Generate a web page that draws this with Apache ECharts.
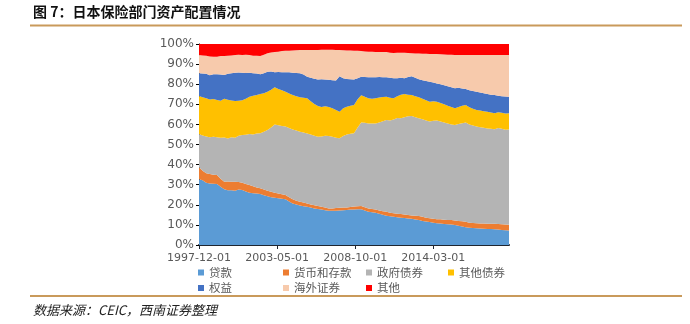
<!DOCTYPE html>
<html>
<head>
<meta charset="utf-8">
<script src="https://cdn.jsdelivr.net/npm/echarts@6/dist/echarts.min.js"></script>
<style>
html,body{margin:0;padding:0;background:#fff;}
#chart{width:690px;height:324px;}
</style>
</head>
<body>
<div id="chart"></div>
<script>
// Quarterly observation dates 1997-12-01 .. 2019-06-01 (87 points)
const quarters = [];
for (let i = 0; i < 87; i++) {
  const t = 1997 * 12 + 11 + 3 * i;
  const y = Math.floor(t / 12), m = t % 12 + 1;
  quarters.push(y + '-' + (m < 10 ? '0' + m : m) + '-01');
}
// Monthly label axis over the same span (259 months)
const months = [];
for (let i = 0; i < 259; i++) {
  const t = 1997 * 12 + 11 + i;
  const y = Math.floor(t / 12), m = t % 12 + 1;
  months.push(y + '-' + (m < 10 ? '0' + m : m) + '-01');
}
const labelStep = 65; // tick labels: 1997-12-01, 2003-05-01, 2008-10-01, 2014-03-01
const seriesNames = ['贷款', '货币和存款', '政府债券', '其他债券', '权益', '海外证券', '其他'];

const loans = [32.7,32.2,31.0,30.6,30.5,30.3,29.0,27.7,27.2,27.3,
  27.0,27.6,27.4,26.6,26.0,25.8,25.6,25.4,24.8,24.2,
  23.8,23.5,23.3,23.0,22.7,21.6,20.7,20.1,19.6,19.3,
  19.0,18.6,18.2,17.9,17.6,17.3,17.0,17.0,17.1,17.2,
  17.3,17.4,17.6,17.7,17.8,17.8,17.2,16.6,16.3,16.0,
  15.5,15.0,14.6,14.3,14.0,13.8,13.6,13.4,13.2,13.0,
  12.7,12.4,12.0,11.7,11.4,11.1,10.8,10.7,10.5,10.3,
  10.2,10.0,9.6,9.2,8.8,8.6,8.5,8.3,8.2,8.1,
  8.0,7.9,7.8,7.7,7.5,7.4,7.2];
const deposits = [6.0,4.8,4.7,4.7,4.5,4.5,4.0,3.8,4.4,4.2,
  4.5,3.7,3.6,3.8,3.9,3.4,3.0,2.8,2.8,2.8,
  2.7,2.5,2.3,2.2,2.2,2.2,2.0,1.9,1.9,1.8,
  1.7,1.6,1.6,1.5,1.4,1.3,1.2,1.2,1.3,1.3,
  1.3,1.3,1.3,1.4,1.5,1.6,1.6,1.6,1.6,1.6,
  1.7,1.8,1.9,1.8,1.8,1.8,1.8,1.8,1.7,1.7,
  1.9,2.0,2.0,1.9,1.9,1.9,2.0,2.1,2.1,2.2,
  2.2,2.2,2.4,2.6,2.8,2.5,2.5,2.5,2.5,2.6,
  2.6,2.7,2.8,2.7,2.8,2.8,2.9];
const govBonds = [16.5,17.5,18.3,18.3,18.8,18.8,20.3,22.0,21.4,22.1,
  21.9,23.0,23.7,24.5,25.3,25.8,26.9,27.4,28.7,30.2,
  32.0,34.0,34.0,34.0,34.0,34.4,34.8,35.0,34.9,34.9,
  34.8,34.8,34.6,34.5,35.0,35.7,36.0,35.6,35.0,34.6,
  35.6,36.3,36.4,36.5,39.2,41.6,42.0,42.3,42.5,42.9,
  43.8,44.8,45.7,45.9,46.7,47.6,47.6,48.3,49.1,49.5,
  48.9,48.6,48.6,48.4,48.2,48.8,49.2,48.7,48.4,48.0,
  47.6,47.5,48.2,48.8,49.4,48.9,48.4,48.1,47.9,47.6,
  47.4,47.2,47.0,47.8,47.5,47.2,47.4];
const otherBonds = [18.9,19.0,19.0,18.8,18.8,18.5,18.5,19.2,19.3,18.3,
  18.2,17.5,17.3,17.9,18.6,19.2,19.1,19.5,19.2,19.1,
  18.7,18.5,18.0,17.8,17.4,17.2,17.1,17.0,17.1,17.3,
  17.5,16.5,15.8,15.3,14.7,14.7,14.4,14.2,13.8,13.2,
  13.8,13.8,14.0,14.1,14.0,13.5,13.0,12.5,12.4,12.5,
  12.4,12.0,11.6,11.3,10.5,10.8,11.8,11.6,10.8,10.4,
  10.5,10.5,10.2,10.0,9.8,9.7,9.3,9.1,9.0,8.8,
  8.6,8.3,8.4,8.7,8.7,8.5,8.4,8.3,8.3,8.3,
  8.3,8.1,7.9,7.8,8.0,8.0,8.1];
const equity = [11.3,11.8,12.2,12.1,12.4,12.9,13.0,11.9,12.9,13.5,
  14.1,14.0,13.7,12.8,11.9,11.3,10.7,9.9,9.9,9.9,
  9.1,7.5,8.5,9.0,9.7,10.5,11.1,11.6,11.9,11.5,
  10.7,11.7,12.5,13.2,13.8,13.3,13.6,14.0,14.6,17.7,
  15.0,13.8,13.2,12.7,10.5,9.2,9.8,10.5,10.6,10.5,
  10.2,9.9,9.6,9.9,10.0,9.0,8.4,7.9,8.8,9.4,
  9.2,9.0,9.2,9.6,9.9,9.3,9.1,9.4,9.5,9.7,
  9.9,10.0,9.6,8.5,7.9,8.5,8.8,9.1,9.0,8.9,
  8.8,8.9,9.1,8.3,8.2,8.5,8.1];
const overseas = [9.1,9.0,9.0,9.3,8.7,8.7,9.2,9.4,9.0,8.9,
  8.8,8.8,8.8,9.0,8.8,8.7,8.8,9.0,9.2,9.2,
  9.5,10.0,10.1,10.5,10.7,10.8,11.1,11.3,11.6,12.2,
  13.3,13.8,14.3,14.6,14.6,14.9,15.0,15.1,15.2,13.0,
  13.9,14.2,14.3,14.3,13.6,12.8,12.7,12.7,12.7,12.5,
  12.4,12.5,12.6,12.5,12.5,12.6,12.4,12.6,11.9,11.4,
  12.1,12.8,13.2,13.5,13.8,14.2,14.6,14.9,15.3,15.7,
  16.1,16.5,16.3,16.7,16.9,17.5,17.9,18.2,18.6,19.0,
  19.4,19.7,19.9,20.2,20.5,20.6,20.8];
const others = [5.5,5.7,5.8,6.2,6.3,6.3,6.0,6.0,5.8,5.7,
  5.5,5.4,5.5,5.4,5.5,5.8,5.9,6.0,5.4,4.6,
  4.2,4.0,3.8,3.5,3.3,3.3,3.2,3.1,3.0,3.0,
  3.0,3.0,3.0,3.0,2.9,2.8,2.8,2.9,3.0,3.0,
  3.1,3.2,3.2,3.3,3.4,3.5,3.7,3.8,3.9,4.0,
  4.0,4.0,4.0,4.3,4.5,4.4,4.4,4.4,4.5,4.6,
  4.7,4.7,4.8,4.9,5.0,5.0,5.0,5.1,5.2,5.3,
  5.4,5.5,5.5,5.5,5.5,5.5,5.5,5.5,5.5,5.5,
  5.5,5.5,5.5,5.5,5.5,5.5,5.5];

const seriesValues = [loans, deposits, govBonds, otherBonds, equity, overseas, others];
const colors = ['#5B9BD5', '#ED7D31', '#B4B4B4', '#FFC000', '#4472C4', '#F7CAAC', '#FF0000'];
const legendPos = [[198, 265.5], [283, 265.5], [366, 265.5], [448, 265.5], [198, 281], [283, 281], [366, 281]];

const chart = echarts.init(document.getElementById('chart'), null, { renderer: 'canvas' });

const option = {
  animation: false,
  backgroundColor: '#ffffff',
  color: colors,
  grid: { left: 199, right: 181, top: 44, bottom: 79, containLabel: false },
  legend: seriesNames.map((n, i) => ({
    data: [n],
    left: legendPos[i][0],
    top: legendPos[i][1],
    padding: 0,
    itemWidth: 6,
    itemHeight: 6,
    icon: 'rect',
    selectedMode: false,
    textStyle: { color: '#595959', fontSize: 11.5, fontFamily: '"Noto Sans CJK SC"', lineHeight: 14 }
  })),
  xAxis: [
    {
      // data axis (quarterly), not drawn
      type: 'category',
      data: quarters,
      boundaryGap: false,
      position: 'bottom',
      show: false
    },
    {
      // label axis (monthly), same span
      type: 'category',
      data: months,
      boundaryGap: false,
      position: 'bottom',
      splitLine: { show: false },
      axisLine: { show: true, lineStyle: { color: '#1f2630', width: 2 } },
      axisTick: { show: true, interval: (idx) => idx % labelStep === 0, length: 4, lineStyle: { color: '#1f2630', width: 1 } },
      axisLabel: {
        interval: (idx) => idx % labelStep === 0,
        color: '#595959',
        fontSize: 11,
        fontFamily: '"DejaVu Sans"',
        margin: 8
      }
    }
  ],
  yAxis: {
    type: 'value',
    min: 0,
    max: 100,
    interval: 10,
    splitLine: { show: false },
    axisLine: { show: true, lineStyle: { color: '#000000', width: 1 } },
    axisTick: { show: true, inside: false, length: 3, lineStyle: { color: '#000000' } },
    axisLabel: { formatter: '{value}%', color: '#595959', fontSize: 12, fontFamily: '"DejaVu Sans"', margin: 5 }
  },
  series: seriesNames.map((n, k) => ({
    name: n,
    type: 'line',
    xAxisIndex: 0,
    stack: 'total',
    symbol: 'none',
    showSymbol: false,
    lineStyle: { width: 0 },
    areaStyle: { color: colors[k], opacity: 1 },
    itemStyle: { color: colors[k] },
    data: seriesValues[k]
  })),
  graphic: [
    { type: 'text', x: 33, y: 12, style: { text: '图 7：日本保险部门资产配置情况', font: 'bold 14px "Noto Sans CJK SC"', fill: '#111111', verticalAlign: 'middle' } },
    { type: 'line', shape: { x1: 30, y1: 25.5, x2: 682, y2: 25.5 }, style: { stroke: '#C99A5B', lineWidth: 2 } },
    { type: 'line', shape: { x1: 30, y1: 296, x2: 682, y2: 296 }, style: { stroke: '#C99A5B', lineWidth: 2 } },
    { type: 'text', x: 33, y: 310, style: { text: '数据来源：CEIC，西南证券整理', font: 'italic 13px "Noto Sans CJK SC"', fill: '#222222', verticalAlign: 'middle' } }
  ]
};
chart.setOption(option);
</script>
</body>
</html>
